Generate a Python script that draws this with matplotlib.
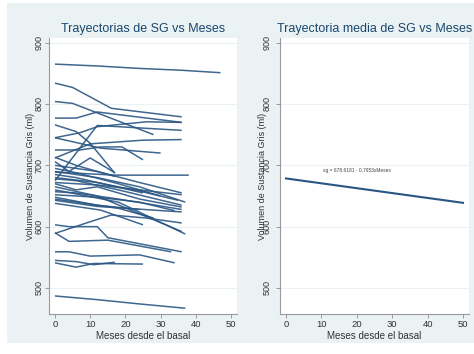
import matplotlib.pyplot as plt
from matplotlib.patches import Rectangle

plt.rcParams["font.family"] = ["Liberation Sans", "DejaVu Sans"]

# Individual gray-matter trajectories (months since baseline, volume in ml)
meses = [
    [0, 12, 24, 36, 47],
    [0, 5, 16, 36],
    [0, 5, 28],
    [0, 6, 12, 36],
    [0, 6, 10, 17],
    [0, 7, 12, 26, 36],
    [0, 12, 36],
    [0, 7, 13, 19, 25],
    [0, 10, 25, 36],
    [0, 13, 30],
    [0, 17, 38],
    [0, 6, 12, 17],
    [0, 4, 10, 17],
    [0, 12, 24, 36],
    [0, 6, 18, 30],
    [0, 12, 24, 37],
    [0, 6, 12, 24, 35],
    [0, 12, 25],
    [0, 6, 18, 36],
    [0, 12, 24, 36],
    [0, 6, 12, 24, 36],
    [0, 12, 36],
    [0, 18, 37],
    [0, 6, 18, 36],
    [0, 12, 24, 34],
    [0, 12, 24],
    [0, 12, 36],
    [0, 13, 25],
    [0, 6, 18, 28],
    [0, 4, 12, 15, 36],
    [0, 10, 16, 26, 36],
    [0, 4, 15, 33],
    [0, 4, 10, 24, 34],
    [0, 6, 11, 25],
    [0, 6, 11, 17],
    [0, 12, 24, 37],
]
volumen = [
    [865, 862, 858, 855, 851],
    [834, 827, 793, 779],
    [804, 801, 750],
    [777, 777, 787, 770],
    [766, 755, 736, 687],
    [745, 753, 763, 771, 770],
    [675, 765, 757],
    [725, 725, 730, 730, 709],
    [712, 735, 741, 742],
    [745, 728, 720],
    [689, 684, 684],
    [713, 700, 690, 682],
    [706, 690, 712, 688],
    [700, 690, 672, 655],
    [695, 688, 670, 650],
    [690, 680, 665, 640],
    [685, 680, 672, 658, 643],
    [680, 672, 655],
    [678, 675, 660, 635],
    [672, 668, 660, 652],
    [670, 660, 665, 645, 632],
    [665, 650, 592],
    [660, 640, 588],
    [657, 655, 645, 628],
    [652, 648, 640, 626],
    [648, 635, 628],
    [643, 633, 624],
    [638, 627, 603],
    [645, 640, 630, 614],
    [603, 600, 600, 582, 559],
    [589, 608, 619, 614, 606],
    [590, 576, 578, 559],
    [559, 559, 552, 554, 541],
    [541, 534, 540, 539],
    [545, 543, 538, 542],
    [487, 481, 474, 467],
]

# Fitted mean trajectory
intercepto = 678.6181
pendiente = -0.7953
meses_media = [0, 50]

y_ticks = [500, 600, 700, 800, 900]
x_ticks = [0, 10, 20, 30, 40, 50]

azul = "#2a5683"
fondo = "#eaf2f3"

fig = plt.figure(figsize=(4.74, 3.54), dpi=100, facecolor="white")
fig.patches.append(Rectangle((7 / 474, 11 / 354), 1 - 7 / 474, 1 - 14 / 354,
                             transform=fig.transFigure, facecolor=fondo,
                             edgecolor="none", zorder=-10))

ax1 = fig.add_axes([49 / 474, 40 / 354, 188 / 474, 276 / 354])
ax2 = fig.add_axes([280 / 474, 40 / 354, 189 / 474, 276 / 354])

for m, v in zip(meses, volumen):
    ax1.plot(m, v, color=azul, lw=1.1, alpha=0.9, solid_capstyle="butt")

xm = meses_media
ym = [intercepto + pendiente * x for x in xm]
ax2.plot(xm, ym, color=azul, lw=1.5)
ax2.text(20, 692, "sg = %.4f - %.4fxMeses" % (intercepto, -pendiente),
         fontsize=3.5, ha="center", va="center", color="#444444")

titulos = ["Trayectorias de SG vs Meses", "Trayectoria media de SG vs Meses"]
for ax, titulo, pad, lx in [(ax1, titulos[0], 1.0, -0.1), (ax2, titulos[1], 3.2, -0.095)]:
    ax.set_facecolor("white")
    ax.set_xlim(-1.7, 51.7)
    ax.set_ylim(457.6, 907.6)
    ax.set_yticks(y_ticks)
    ax.set_xticks(x_ticks)
    ax.set_yticklabels([str(t) for t in y_ticks], rotation=90, va="center")
    for s in ["top", "right"]:
        ax.spines[s].set_visible(False)
    for s in ["left", "bottom"]:
        ax.spines[s].set_color("#9a9a9a")
        ax.spines[s].set_linewidth(0.8)
    ax.tick_params(axis="y", length=3, width=0.7, color="#9a9a9a",
                   labelsize=6.5, labelcolor="#333333", pad=pad)
    ax.tick_params(axis="x", length=3, width=0.7, color="#9a9a9a",
                   labelsize=6.8, labelcolor="#333333", pad=1.5)
    ax.grid(axis="y", color=fondo, lw=0.8)
    ax.set_axisbelow(True)
    ax.set_title(titulo, fontsize=9, color="#1a476f", pad=4)
    ax.set_xlabel("Meses desde el basal", fontsize=7, color="#333333")
    ax.xaxis.set_label_coords(0.5, -0.078)
    ax.xaxis.label.set_va("center")
    ax.set_ylabel("Volumen de Sustancia Gris (ml)", fontsize=6.5, color="#333333")
    ax.yaxis.set_label_coords(lx, 0.5)
    ax.yaxis.label.set_va("center")

fig.savefig("out.png", dpi=100, facecolor=fig.get_facecolor())
